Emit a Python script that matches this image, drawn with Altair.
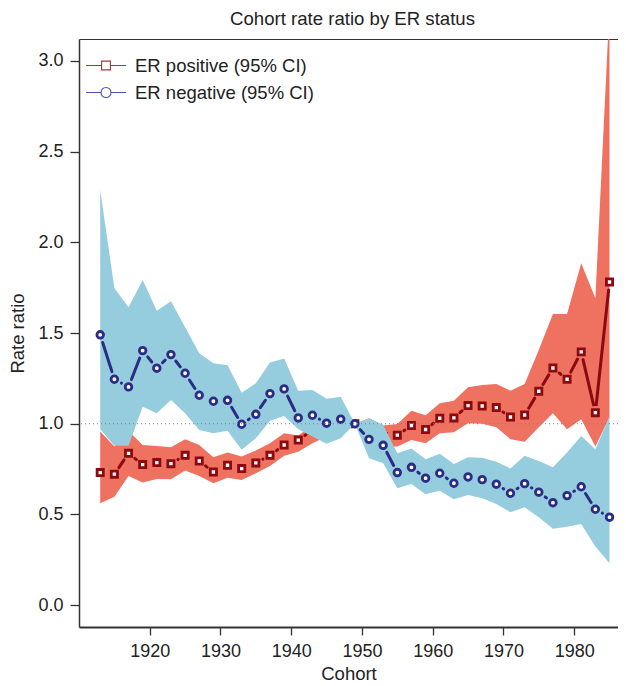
import altair as alt
import pandas as pd

# ---------------- data ----------------
cohort = list(range(1913, 1987, 2))

pos_rr = [0.731, 0.722, 0.837, 0.775, 0.786, 0.780, 0.826, 0.795, 0.734, 0.771,
          0.753, 0.784, 0.826, 0.883, 0.910, 0.965, 0.975, 0.985, 1.000, 0.970,
          0.930, 0.937, 0.990, 0.968, 1.030, 1.032, 1.100, 1.098, 1.089, 1.037,
          1.048, 1.179, 1.307, 1.245, 1.396, 1.061, 1.781]
pos_lo = [0.562, 0.598, 0.712, 0.676, 0.696, 0.694, 0.742, 0.712, 0.672, 0.703,
          0.690, 0.727, 0.767, 0.823, 0.846, 0.892, 0.930, 0.950, 1.000, 0.920,
          0.870, 0.874, 0.911, 0.893, 0.948, 0.953, 1.003, 1.000, 0.981, 0.915,
          0.901, 0.981, 1.058, 0.970, 1.025, 0.874, 1.036]
pos_hi = [0.957, 0.874, 0.960, 0.883, 0.878, 0.870, 0.915, 0.883, 0.815, 0.841,
          0.819, 0.852, 0.892, 0.948, 0.935, 0.990, 1.020, 1.020, 1.000, 1.030,
          0.990, 0.999, 1.071, 1.047, 1.113, 1.126, 1.201, 1.214, 1.219, 1.182,
          1.219, 1.407, 1.605, 1.605, 1.884, 1.691, 3.300]

neg_rr = [1.490, 1.245, 1.203, 1.403, 1.306, 1.381, 1.278, 1.157, 1.124, 1.129,
          0.997, 1.052, 1.166, 1.192, 1.032, 1.047, 1.003, 1.025, 1.000, 0.914,
          0.881, 0.731, 0.760, 0.700, 0.727, 0.672, 0.707, 0.692, 0.667, 0.617,
          0.670, 0.623, 0.565, 0.604, 0.653, 0.529, 0.485]
neg_lo = [0.970, 0.879, 0.879, 1.094, 1.058, 1.131, 1.058, 0.966, 0.948, 0.962,
          0.856, 0.920, 1.017, 1.043, 0.970, 0.930, 0.890, 0.920, 1.000, 0.810,
          0.782, 0.645, 0.668, 0.611, 0.631, 0.584, 0.608, 0.589, 0.558, 0.512,
          0.540, 0.485, 0.422, 0.433, 0.448, 0.323, 0.231]
neg_hi = [2.288, 1.748, 1.642, 1.792, 1.623, 1.675, 1.532, 1.388, 1.333, 1.322,
          1.171, 1.223, 1.337, 1.359, 1.182, 1.186, 1.138, 1.149, 1.000, 1.030,
          0.995, 0.837, 0.863, 0.804, 0.834, 0.778, 0.815, 0.812, 0.791, 0.753,
          0.823, 0.795, 0.760, 0.841, 0.933, 0.860, 1.040]

pos_label = "ER positive (95% CI)"
neg_label = "ER negative (95% CI)"
x_ticks = [1920, 1930, 1940, 1950, 1960, 1970, 1980]
y_ticks = [0.0, 0.5, 1.0, 1.5, 2.0, 2.5, 3.0]

# ---------------- layout / style ----------------
W, H = 539, 588
XD = [1910.0, 1986.2]
YD = [-0.12, 3.12]
FONT = "Liberation Sans"
TXT = "#222222"
AX = "#333333"
RED_BAND = "#EF715F"
BLUE_BAND = "#96CDDE"
RED_PT = "#8B0A0F"
BLUE_PT = "#2B2C86"
GAP = 8.0  # px gap around points on the connecting line (R type="b")

px_x = W / (XD[1] - XD[0])
px_y = H / (YD[1] - YD[0])


def segments(xs, ys):
    rows = []
    for x1, y1, x2, y2 in zip(xs, ys, xs[1:], ys[1:]):
        dx = (x2 - x1) * px_x
        dy = (y2 - y1) * px_y
        L = (dx * dx + dy * dy) ** 0.5
        if L <= 2 * GAP:
            continue
        f = GAP / L
        rows.append(dict(x=x1 + (x2 - x1) * f, y=y1 + (y2 - y1) * f,
                         x2=x2 - (x2 - x1) * f, y2=y2 - (y2 - y1) * f))
    return pd.DataFrame(rows)


df = pd.DataFrame(dict(cohort=cohort, pos_rr=pos_rr, pos_lo=pos_lo, pos_hi=pos_hi,
                       neg_rr=neg_rr, neg_lo=neg_lo, neg_hi=neg_hi))
seg_pos = segments(cohort, pos_rr)
seg_neg = segments(cohort, neg_rr)

xs = alt.Scale(domain=XD, nice=False, zero=False)
ys = alt.Scale(domain=YD, nice=False, zero=False)

x_axis = alt.Axis(values=x_ticks, format="d", title="Cohort", tickSize=8, tickWidth=1.3,
                  tickColor=AX, domainColor=AX, domainWidth=2, labelPadding=7,
                  labelFontSize=18, titleFontSize=18.5, titleFontWeight="normal",
                  titlePadding=4, labelColor=TXT, titleColor=TXT, grid=False,
                  labelFlush=False)
x_top = alt.Axis(orient="top", labels=False, ticks=False, title=None, domainColor=AX,
                 domainWidth=1.2, grid=False)
y_axis = alt.Axis(values=y_ticks, format=".1f", title="Rate ratio", tickSize=9, tickWidth=1.3,
                  tickColor=AX, domainColor=AX, domainWidth=1.5, labelPadding=7,
                  labelFontSize=18, titleFontSize=18.5, titleFontWeight="normal",
                  titlePadding=10, labelColor=TXT, titleColor=TXT, grid=False)

base = alt.Chart(df)

red_band = base.mark_area(color=RED_BAND, opacity=1, clip=True).encode(
    x=alt.X("cohort:Q", scale=xs, axis=x_axis),
    y=alt.Y("pos_lo:Q", scale=ys, axis=y_axis),
    y2="pos_hi:Q",
)
red_line = alt.Chart(seg_pos).mark_rule(color=RED_PT, strokeWidth=3, strokeCap="round").encode(
    x=alt.X("x:Q", scale=xs, axis=None), x2="x2:Q",
    y=alt.Y("y:Q", scale=ys, axis=None), y2="y2:Q",
)
red_pts = base.mark_point(shape="square", filled=True, fill="white", stroke=RED_PT,
                          strokeWidth=2.8, size=38, opacity=1).encode(
    x=alt.X("cohort:Q", scale=xs, axis=None),
    y=alt.Y("pos_rr:Q", scale=ys, axis=None),
)
blue_band = base.mark_area(color=BLUE_BAND, opacity=1, clip=True).encode(
    x=alt.X("cohort:Q", scale=xs, axis=x_top),
    y=alt.Y("neg_lo:Q", scale=ys, axis=None),
    y2="neg_hi:Q",
)
blue_line = alt.Chart(seg_neg).mark_rule(color=BLUE_PT, strokeWidth=3, strokeCap="round").encode(
    x=alt.X("x:Q", scale=xs, axis=None), x2="x2:Q",
    y=alt.Y("y:Q", scale=ys, axis=None), y2="y2:Q",
)
blue_pts = base.mark_point(shape="circle", filled=True, fill="white", stroke=BLUE_PT,
                           strokeWidth=2.8, size=44, opacity=1).encode(
    x=alt.X("cohort:Q", scale=xs, axis=None),
    y=alt.Y("neg_rr:Q", scale=ys, axis=None),
)
ref_line = alt.Chart(pd.DataFrame({"ref": [1.0]})).mark_rule(
    color="#808080", strokeWidth=1, strokeDash=[1, 3]).encode(
    y=alt.Y("ref:Q", scale=ys, axis=None),
)

# legend (R-style line + symbol keys)
sq_path = "M-1,0H-0.22M0.22,0H1M-0.22,-0.22H0.22V0.22H-0.22Z"
ci_path = "M-1,0H-0.25M0.25,0H1M0.25,0A0.25,0.25,0,1,1,-0.25,0A0.25,0.25,0,1,1,0.25,0Z"
legend = alt.Legend(title=None, orient="none", legendX=6, legendY=13, clipHeight=27,
                    rowPadding=0, padding=0, labelFontSize=18.5, labelColor=TXT,
                    labelOffset=8, labelLimit=400, symbolSize=1600, symbolStrokeWidth=1.1,
                    labelFont=FONT)
leg_df = pd.DataFrame({"series": [pos_label, neg_label]})
legend_layer = alt.Chart(leg_df).transform_filter("false").mark_point(
    filled=False, size=1600, strokeWidth=1.1, opacity=1).encode(
    color=alt.Color("series:N", scale=alt.Scale(domain=[pos_label, neg_label],
                                                range=["#A8343A", "#4A57B0"]), legend=legend),
    shape=alt.Shape("series:N", scale=alt.Scale(domain=[pos_label, neg_label],
                                                range=[sq_path, ci_path]), legend=legend),
)

chart = alt.layer(
    red_band, red_line, red_pts, blue_band, blue_line, blue_pts, ref_line, legend_layer
).resolve_axis(x="independent", y="independent").properties(
    width=W, height=H,
    title=alt.TitleParams("Cohort rate ratio by ER status", fontSize=18.6, fontWeight="normal",
                          font=FONT, color=TXT, offset=10, anchor="middle", dx=4),
    padding={"left": 71, "top": 31, "right": 0, "bottom": 59},
    autosize=alt.AutoSizeParams(type="none"),
).configure(font=FONT).configure_view(stroke=None)

chart.save("out.html", embed_options={"renderer": "svg", "actions": False})
